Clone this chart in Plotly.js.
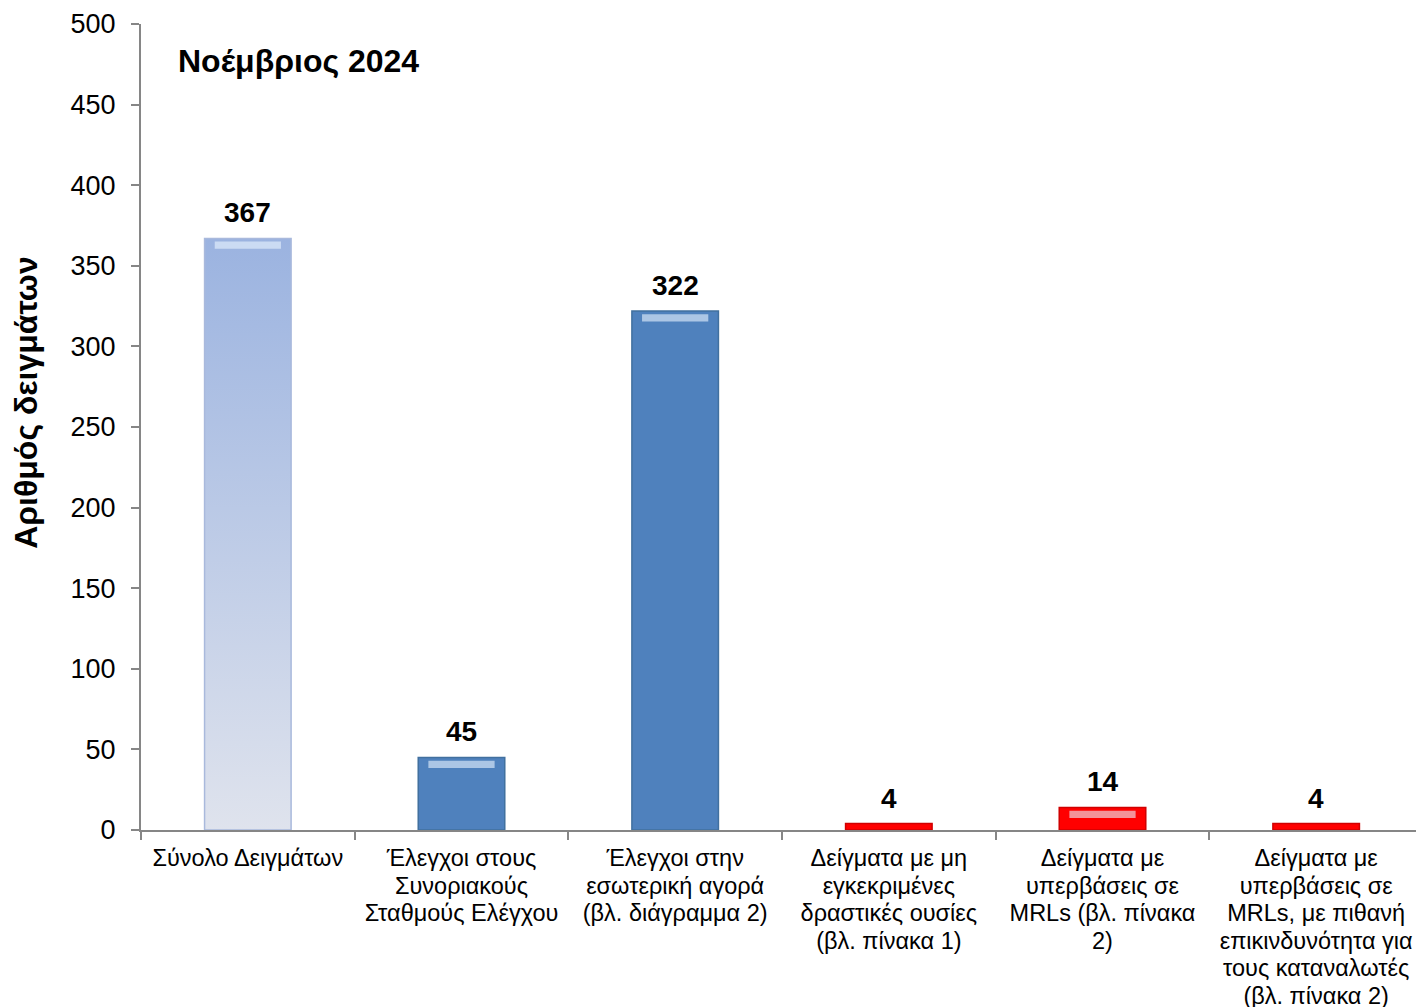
<!DOCTYPE html>
<html>
<head>
<meta charset="utf-8">
<script src="https://cdn.plot.ly/plotly-3.0.1.min.js"></script>
<style>
html,body{margin:0;padding:0;overflow:hidden;background:#fff;}
#chart{width:1424px;height:1007px;}
</style>
</head>
<body>
<div id="chart"></div>
<script>
const categories = [
  "Σύνολο Δειγμάτων",
  "Έλεγχοι στους<br>Συνοριακούς<br>Σταθμούς Ελέγχου",
  "Έλεγχοι στην<br>εσωτερική αγορά<br>(βλ. διάγραμμα 2)",
  "Δείγματα με μη<br>εγκεκριμένες<br>δραστικές ουσίες<br>(βλ. πίνακα 1)",
  "Δείγματα με<br>υπερβάσεις σε<br>MRLs (βλ. πίνακα<br>2)",
  "Δείγματα με<br>υπερβάσεις σε<br>MRLs, με πιθανή<br>επικινδυνότητα για<br>τους καταναλωτές<br>(βλ. πίνακα 2)"
];
const values = [367, 45, 322, 4, 14, 4];
const barColors = ["#b3c3e6", "#4f81bd", "#4f81bd", "#ff0000", "#ff0000", "#ff0000"];
const edgeColors = ["#a9b9dc", "#41709f", "#41709f", "#d00000", "#d00000", "#d00000"];
const titleText = "Νοέμβριος 2024";
const yTitle = "Αριθμός δειγμάτων";

const font = "Liberation Sans, Arial, sans-serif";

const mainBars = {
  type: "bar",
  x: categories,
  y: values,
  width: 0.405,
  marker: {color: barColors, line: {width: 1.5, color: edgeColors}},
  hoverinfo: "none"
};

// top bevel highlight (decoration derived from the bar values)
const highlight = {
  type: "bar",
  x: categories,
  y: values.map(v => v >= 10 ? 4.5 : 0),
  base: values.map(v => v - 6.5),
  width: 0.31,
  marker: {color: "rgba(235,245,255,0.6)", line: {width: 0}},
  hoverinfo: "none"
};

const annotations = categories.map((c, i) => ({
  x: c, y: values[i], xref: "x", yref: "y",
  text: "<b>" + values[i] + "</b>", showarrow: false,
  yanchor: "bottom", yshift: 8,
  font: {family: font, size: 28, color: "#000"}
}));
annotations.push({
  xref: "paper", yref: "paper", x: 0.027, y: 0.954,
  xanchor: "left", yanchor: "middle", showarrow: false,
  text: "<b>" + titleText + "</b>",
  font: {family: font, size: 32, color: "#000"}
});
annotations.push({
  xref: "paper", yref: "paper", x: 0, y: 0.530, xshift: -115,
  xanchor: "center", yanchor: "middle", showarrow: false, textangle: -90,
  text: "<b>" + yTitle + "</b>",
  font: {family: font, size: 32, color: "#000"}
});

const layout = {
  width: 1424, height: 1007,
  margin: {l: 141, r: 1, t: 24, b: 177},
  paper_bgcolor: "#fff", plot_bgcolor: "#fff",
  showlegend: false,
  barmode: "overlay",
  font: {family: font, color: "#000"},
  xaxis: {
    type: "category",
    showline: true, linecolor: "#868686", linewidth: 2,
    ticks: "outside", tickson: "boundaries", ticklen: 8, tickcolor: "#868686", tickwidth: 2,
    ticklabelstandoff: 6,
    tickfont: {family: font, size: 23.5, color: "#000"},
    showgrid: false, zeroline: false, fixedrange: true
  },
  yaxis: {
    range: [0, 500], dtick: 50, tick0: 0,
    showline: true, linecolor: "#868686", linewidth: 2,
    ticks: "outside", ticklen: 8, tickcolor: "#868686", tickwidth: 2,
    ticklabelstandoff: 10,
    tickfont: {family: font, size: 27, color: "#000"},
    showgrid: false, zeroline: false,
    fixedrange: true
  },
  annotations: annotations
};

Plotly.newPlot("chart", [mainBars, highlight], layout, {displayModeBar: false, staticPlot: true}).then(gd => {
  const svg = gd.querySelector("svg.main-svg");
  const ns = "http://www.w3.org/2000/svg";
  let defs = svg.querySelector("defs");
  if (!defs) { defs = document.createElementNS(ns, "defs"); svg.insertBefore(defs, svg.firstChild); }
  const grad = document.createElementNS(ns, "linearGradient");
  grad.setAttribute("id", "g0"); grad.setAttribute("x1", "0"); grad.setAttribute("y1", "0");
  grad.setAttribute("x2", "0"); grad.setAttribute("y2", "1");
  [["0", "#9bb3e0"], ["1", "#dfe3ed"]].forEach(([o, c]) => {
    const s = document.createElementNS(ns, "stop");
    s.setAttribute("offset", o); s.setAttribute("stop-color", c); grad.appendChild(s);
  });
  defs.appendChild(grad);
  const traces = gd.querySelectorAll(".barlayer .trace");
  const p0 = traces[0] && traces[0].querySelector(".point path");
  if (p0) p0.style.fill = "url(#g0)";
  // tighter line spacing for the multi-line category labels
  gd.querySelectorAll(".xtick text tspan.line").forEach(t => {
    const dy = t.getAttribute("dy");
    if (dy) {
      const v = parseFloat(dy);
      if (v) t.setAttribute("dy", (v * 0.9) + "em");
    }
  });
});
</script>
</body>
</html>
